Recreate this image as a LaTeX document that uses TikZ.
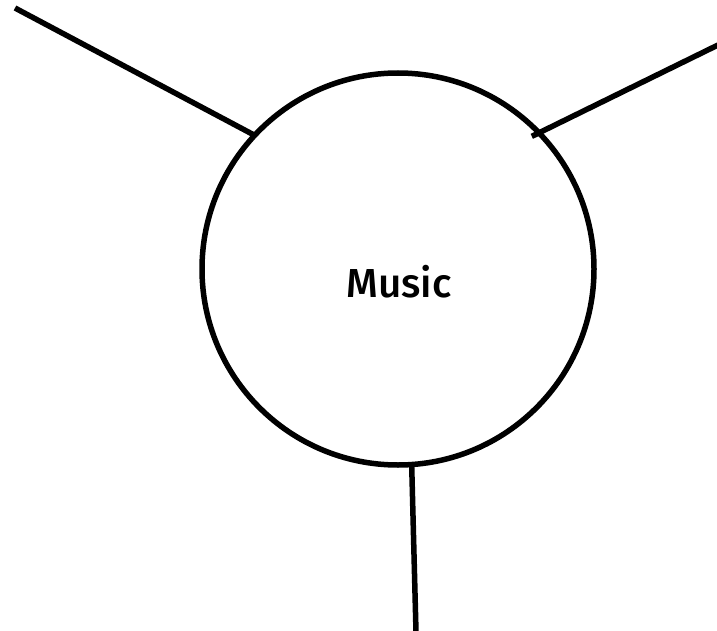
\documentclass[tikz,border=0pt]{standalone}
\usepackage{fontspec}
\setmainfont{Fira Sans Medium}
\begin{document}
\begin{tikzpicture}[x=1pt,y=-1pt,
  line/.style={line width=5.5pt, black},
  hub/.style={circle, draw, line width=5.5pt, minimum size=392pt, inner sep=0pt, outer sep=0pt},
  lab/.style={font=\fontsize{40.5}{48}\selectfont, inner sep=0pt}]
\useasboundingbox (0,0) rectangle (717,631);
\node[hub] (c) at (398,269) {};
\node[lab] (t) at (399,282) {Music};
\coordinate (tl) at (15,8);
\coordinate (tr) at (718,45);
\coordinate (bt) at (416,632);
\draw[line] (tl) -- (c.137.7);
\draw[line, shorten >=-8pt] (tr) -- (c.44.1);
\draw[line] (bt) -- (c.-86.2);
\end{tikzpicture}
\end{document}
